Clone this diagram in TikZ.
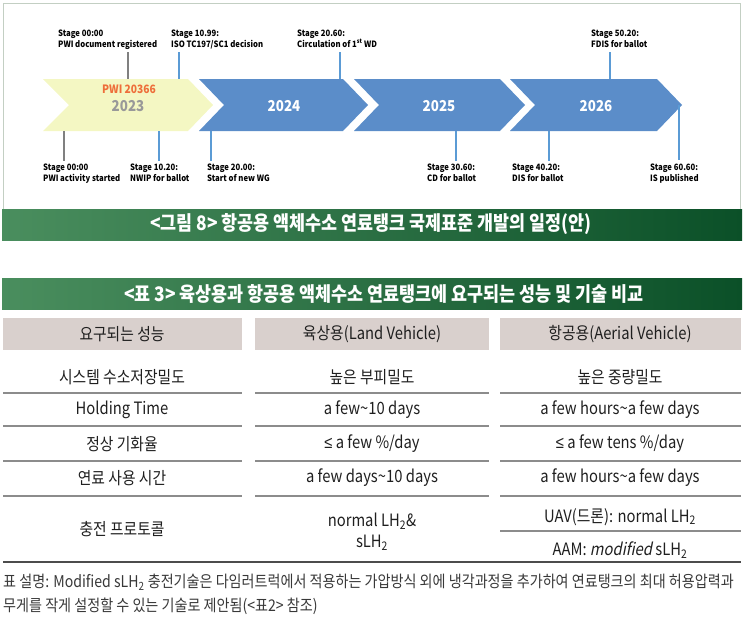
\documentclass[tikz,border=0pt]{standalone}
\usepackage{fontspec}
\setmainfont{Noto Sans CJK KR}[FakeStretch=0.87]
\newfontfamily\tlfont{Noto Sans CJK KR}[FakeStretch=0.89]
\newfontfamily\slfont{Noto Sans CJK KR}[FakeStretch=0.87,FakeSlant=0.2]
\newfontfamily\symfont{Liberation Sans}[FakeStretch=0.87]
\newcommand{\lesym}{{\symfont ≤}}

\definecolor{barL}{HTML}{4A8E5E}
\definecolor{barR}{HTML}{0B5028}
\definecolor{chevblue}{HTML}{5B8DC9}
\definecolor{tickblue}{HTML}{5B9BD5}
\definecolor{chevyellow}{HTML}{F4F7C3}
\definecolor{headgray}{HTML}{D9D0CD}
\definecolor{pwiorange}{HTML}{EE6E3A}
\definecolor{framegray}{HTML}{C3CFC3}

\begin{document}
\begin{tikzpicture}[
        x=1pt, y=-1pt,
        every node/.style={inner sep=0pt},
        stage/.style={font=\tlfont\bfseries\fontsize{8.7}{10.8}\selectfont, align=left, anchor=north west},
        year/.style={font=\tlfont\bfseries\fontsize{15}{17}\selectfont},
        gtick/.style={draw=black!50, line width=2.6pt},
        btick/.style={draw=tickblue, line width=2.4pt},
        capbar/.style={font=\bfseries\fontsize{20}{22}\selectfont, text=white},
        cell/.style={font=\fontsize{17}{21}\selectfont, text=black!88, align=center},
        rowline/.style={draw=black!45, line width=1.1pt},
        lastline/.style={draw=black!70, line width=1.4pt},
        fnote/.style={font=\fontsize{16.2}{24}\selectfont, text=black!78, anchor=west}
    ]
      \useasboundingbox (0,0) rectangle (744,629);

      % Рамка рисунка
      \draw[framegray, line width=1pt] (3,209) -- (3,3) -- (740,3) -- (740,209);

      % Стрелки годов
      \fill[chevyellow] (43,79) -- (188,79) -- (213,105) -- (188,131) -- (43,131) -- (69,105) -- cycle;
      \foreach \a/\b in {199/343, 354/500, 510/657}
        \fill[chevblue] (\a,79) -- (\b,79) -- (\b+25,105) -- (\b,131) -- (\a,131) -- (\a+25,105) -- cycle;

      \node[year, text=pwiorange, font=\tlfont\bfseries\fontsize{11.5}{13}\selectfont] (pwi) at (129,89) {PWI 20366};
      \node[year, text=black!40] (y2023) at (128,106) {2023};
      \node[year, text=white] (y2024) at (284,106) {2024};
      \node[year, text=white] (y2025) at (439,106) {2025};
      \node[year, text=white] (y2026) at (596,106) {2026};

      % Этапы сверху
      \node[stage] (s0000r) at (58,29.5) {Stage 00:00\\PWI document registered};
      \node[stage] (s1099) at (171,29.5) {Stage 10.99:\\ISO TC197/SC1 decision};
      \node[stage] (s2060) at (297,29.5) {Stage 20.60:\\Circulation of 1\textsuperscript{st} WD};
      \node[stage] (s5020) at (591,29.5) {Stage 50.20:\\FDIS for ballot};
      \draw[gtick] (128,52) -- (128,79);
      \draw[btick] (179,52) -- (179,79);
      \draw[btick] (340,52) -- (340,79);
      \draw[btick] (610,52) -- (610,79);

      % Этапы снизу
      \node[stage] (s0000s) at (43,163.5) {Stage 00:00\\PWI activity started};
      \node[stage] (s1020) at (130,163.5) {Stage 10.20:\\NWIP for ballot};
      \node[stage] (s2000) at (207,163.5) {Stage 20.00:\\Start of new WG};
      \node[stage] (s3060) at (427,163.5) {Stage 30.60:\\CD for ballot};
      \node[stage] (s4020) at (512,163.5) {Stage 40.20:\\DIS for ballot};
      \node[stage] (s6060) at (650,163.5) {Stage 60.60:\\IS published};
      \draw[gtick] (64,131) -- (64,161);
      \draw[btick] (159,131) -- (159,161);
      \draw[btick] (211,131) -- (211,161);
      \draw[btick] (456,131) -- (456,161);
      \draw[btick] (549,131) -- (549,161);
      \draw[btick] (679,105) -- (679,160);

      % Подписи
      \shade[left color=barL, right color=barR] (2,209) rectangle (742,240);
      \node[capbar] (cap8) at (371,224.5) {<그림 8> 항공용 액체수소 연료탱크 국제표준 개발의 일정(안)};
      \shade[left color=barL, right color=barR] (2,278) rectangle (742,309);
      \node[capbar] (tab3) at (384,293.5) {<표 3> 육상용과 항공용 액체수소 연료탱크에 요구되는 성능 및 기술 비교};

      % Шапка таблицы
      \fill[headgray] (3,318) rectangle (242,350);
      \fill[headgray] (255,318) rectangle (489,350);
      \fill[headgray] (500,318) rectangle (741,350);
      \node[cell] (h1) at (122,334) {요구되는 성능};
      \node[cell] (h2) at (372,334) {육상용(Land Vehicle)};
      \node[cell] (h3) at (620,334) {항공용(Aerial Vehicle)};

      % Строки таблицы
      \node[cell] (r1c1) at (122,377) {시스템 수소저장밀도};
      \node[cell] (r1c2) at (372,377) {높은 부피밀도};
      \node[cell] (r1c3) at (620,377) {높은 중량밀도};
      \node[cell] (r2c1) at (122,410) {Holding Time};
      \node[cell] (r2c2) at (372,410) {a few\textasciitilde 10 days};
      \node[cell] (r2c3) at (620,410) {a few hours\textasciitilde a few days};
      \node[cell] (r3c1) at (122,444) {정상 기화율};
      \node[cell] (r3c2) at (372,444) {\lesym{} a few \%/day};
      \node[cell] (r3c3) at (620,444) {\lesym{} a few tens \%/day};
      \node[cell] (r4c1) at (122,478) {연료 사용 시간};
      \node[cell] (r4c2) at (372,478) {a few days\textasciitilde 10 days};
      \node[cell] (r4c3) at (620,478) {a few hours\textasciitilde a few days};
      \node[cell] (r5c1) at (122,529) {충전 프로토콜};
      \node[cell] (r5c2) at (372,532) {normal LH\textsubscript{2}\&\\sLH\textsubscript{2}};
      \node[cell] (r5c3a) at (620,517) {UAV(드론): normal LH\textsubscript{2}};
      \node[cell] (r5c3b) at (620,550) {AAM: {\slfont modified} sLH\textsubscript{2}};

      \foreach \y in {393, 426, 461, 496} {
        \draw[rowline] (3,\y) -- (242,\y);
        \draw[rowline] (255,\y) -- (489,\y);
        \draw[rowline] (500,\y) -- (741,\y);
      }
      \draw[rowline] (500,531) -- (741,531);
      \draw[lastline] (3,562) -- (741,562);

      % Пояснение
      \node[fnote] (fn1) at (3,582) {표 설명: Modified sLH\textsubscript{2} 충전기술은 다임러트럭에서 적용하는 가압방식 외에 냉각과정을 추가하여 연료탱크의 최대 허용압력과};
      \node[fnote] (fn2) at (3,606) {무게를 작게 설정할 수 있는 기술로 제안됨(<표2> 참조)};
    \end{tikzpicture}
\end{document}
